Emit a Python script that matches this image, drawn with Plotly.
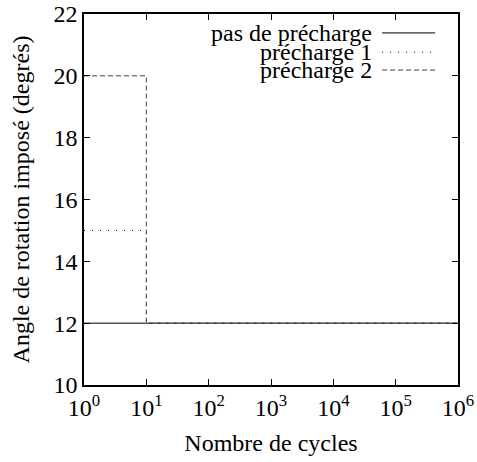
import plotly.graph_objects as go

# Data
x_pas = [1, 1e6]
y_pas = [12, 12]
x_p1 = [1, 10, 10, 1e6]
y_p1 = [15, 15, 12, 12]
x_p2 = [1, 10, 10, 1e6]
y_p2 = [20, 20, 12, 12]
names = ["pas de précharge", "précharge 1", "précharge 2"]
x_tickvals = [1, 10, 100, 1000, 1e4, 1e5, 1e6]
x_ticktext = ["10<sup>%d</sup>" % i for i in range(7)]
y_tickvals = [10, 12, 14, 16, 18, 20, 22]

FONT = "Liberation Serif"
FS = 24
styles = [
    dict(color="black", width=1, dash="solid"),
    dict(color="black", width=1, dash="1px,7px"),
    dict(color="#444444", width=1, dash="5px,3px"),
]

fig = go.Figure()
for xs, ys, nm, st in [(x_pas, y_pas, names[0], styles[0]),
                       (x_p1, y_p1, names[1], styles[1]),
                       (x_p2, y_p2, names[2], styles[2])]:
    fig.add_trace(go.Scatter(x=xs, y=ys, mode="lines", name=nm, line=st, showlegend=False))

# manual legend (text right-aligned, sample line on the right)
leg_y = [0.949, 0.897, 0.849]
for nm, st, yy in zip(names, styles, leg_y):
    fig.add_annotation(xref="paper", yref="paper", x=0.775, y=yy, text=nm,
                       showarrow=False, xanchor="right", yanchor="middle",
                       font=dict(family=FONT, size=FS, color="black"))
    fig.add_shape(type="line", xref="paper", yref="paper", x0=0.797, x1=0.939, y0=yy, y1=yy,
                  line=st)

axis_common = dict(showline=True, linecolor="black", linewidth=1.6, mirror="ticks",
                   ticks="inside", ticklen=6, tickwidth=1.2, tickcolor="black",
                   showgrid=False, zeroline=False, automargin=False,
                   tickfont=dict(family=FONT, size=FS, color="black"))

fig.update_xaxes(type="log", range=[0, 6], tickvals=x_tickvals, ticktext=x_ticktext,
                 title=dict(text="Nombre de cycles", font=dict(family=FONT, size=FS, color="black"), standoff=15),
                 **axis_common)
fig.update_yaxes(range=[10, 22], tickvals=y_tickvals,
                 title=dict(text="Angle de rotation imposé (degrés)", font=dict(family=FONT, size=FS, color="black"), standoff=17),
                 **axis_common)

fig.update_layout(width=477, height=462, margin=dict(l=84, r=19, t=14, b=77),
                  plot_bgcolor="white", paper_bgcolor="white",
                  font=dict(family=FONT, size=FS, color="black"))

fig.write_html("out.html", config={"displayModeBar": False},
               post_script="document.body.style.margin='0';")
